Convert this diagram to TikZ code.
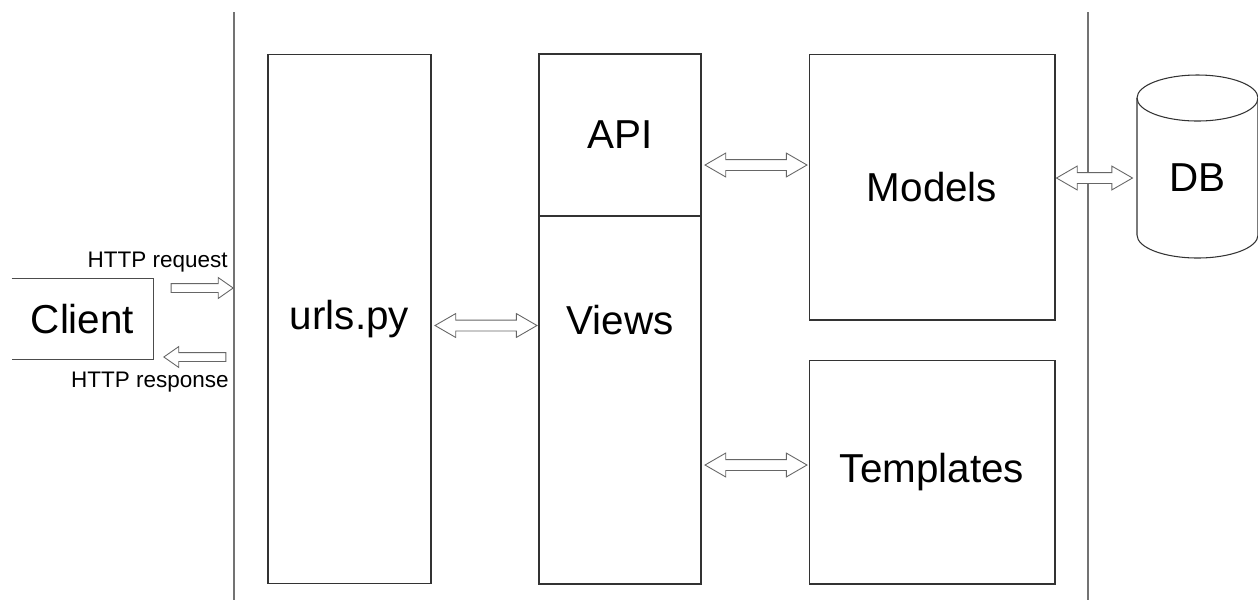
\documentclass[tikz,border=0pt]{standalone}
\usepackage{fontspec}
\setmainfont{Liberation Sans}
\usetikzlibrary{shapes.geometric, shapes.arrows, positioning, calc}

\begin{document}
\begin{tikzpicture}[
    x=0.02cm, y=-0.02cm,
    base/.style={draw=black!80, line width=0.6pt, align=center, font=\fontsize{23}{26}\selectfont},
    block/.style={base, rectangle, inner sep=0pt},
    bigtext/.style={font=\fontsize{23}{26}\selectfont, inner sep=0pt},
    smalltext/.style={font=\fontsize{12.8}{15}\selectfont, inner sep=0pt, anchor=east},
    divider/.style={draw=black!55, line width=0.8pt},
    dblarrow/.style={double arrow, draw=black!60, fill=white, line width=0.5pt, inner sep=0.1cm,
        minimum width=0.46cm, double arrow head extend=0.13cm, double arrow tip angle=60},
    sglarrow/.style={single arrow, draw=black!60, fill=white, line width=0.5pt, inner sep=0.08cm,
        minimum width=0.4cm, single arrow head extend=0.12cm, single arrow tip angle=70}
    ]

    \useasboundingbox (0,0) rectangle (1258,600);

    % --- Separadores ---
    \coordinate (sepA) at (234,12);
    \coordinate (sepB) at (1088,12);
    \draw[divider] (sepA) -- (sepA |- 0,600);
    \draw[divider] (sepB) -- (sepB |- 0,600);

    % --- Cliente ---
    \node (client) [bigtext, minimum width=2.82cm, minimum height=1.6cm] at (82.5,319) {Client};
    \draw[black!70, line width=0.6pt] (client.north west) -- (client.north east)
        -- (client.south east) -- (client.south west);

    \node (req) [sglarrow, minimum height=1.24cm] at (199,288) {};
    \node (resp) [sglarrow, minimum height=1.24cm, shape border rotate=180] at (198,357) {};
    \node[smalltext] at (228,262) {HTTP request};
    \node[smalltext] at (229,382) {HTTP response};

    % --- Columnas ---
    \node (urls) [block, minimum width=3.26cm, minimum height=10.6cm] at (349.5,319) {urls.py};

    \node (api) [block, minimum width=3.24cm, minimum height=3.24cm] at (620,135) {API};
    \node (views) [block, minimum width=3.24cm, minimum height=7.36cm] at (620,400) {};
    \node (viewstxt) [bigtext] at (620,320) {Views};

    \node (models) [block, minimum width=4.92cm, minimum height=5.32cm] at (932,187) {Models};
    \node (templates) [block, minimum width=4.92cm, minimum height=4.48cm] at (932,472) {Templates};

    % --- Base de datos ---
    \node (db) [bigtext] at (1197.5,178) {DB};
    \draw[black!80, line width=0.6pt] (1197.5,98) ellipse [x radius=60.5, y radius=23];
    \draw[black!80, line width=0.6pt] (1137,98) -- (1137,235)
        arc [start angle=180, end angle=0, x radius=60.5, y radius=23] -- (1258,98);

    % --- Conexiones ---
    \node (urlsviews) [dblarrow, minimum height=2.04cm] at (486,325.5) {};
    \node (apimodels) [dblarrow, minimum height=2.04cm] at (756,165) {};
    \node (viewstpl) [dblarrow, minimum height=2.04cm] at (756,465) {};
    \node (modelsdb) [dblarrow, minimum height=1.52cm, minimum width=0.4cm] at (1094.5,178) {};

\end{tikzpicture}
\end{document}
